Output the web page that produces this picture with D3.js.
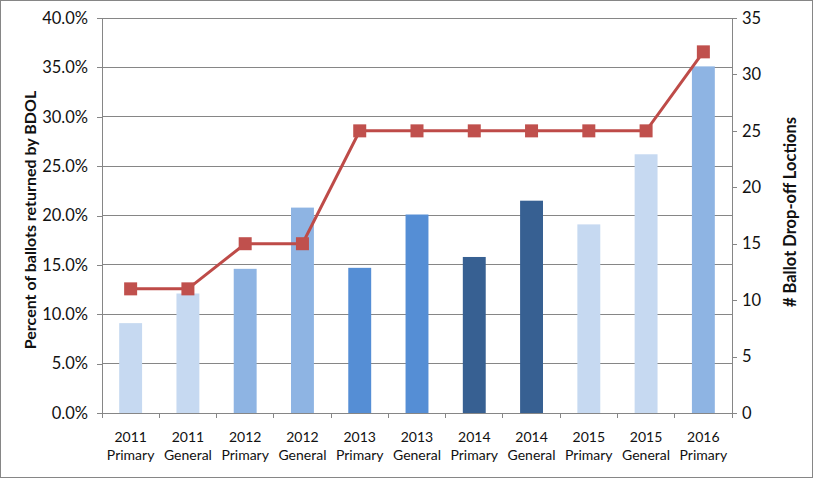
<!DOCTYPE html>
<html><head><meta charset="utf-8">
<script src="https://cdn.jsdelivr.net/npm/d3@7"></script>
<style>body{margin:0;background:#fff}svg{display:block}text{font-family:Lato,Carlito,"Open Sans","Noto Sans",sans-serif}</style>
</head><body>
<svg id="c" width="813" height="478"></svg>
<script>
const years = ["2011","2011","2012","2012","2013","2013","2014","2014","2015","2015","2016"];
const elections = ["Primary","General","Primary","General","Primary","General","Primary","General","Primary","General","Primary"];
const pctReturned = [9.1, 12.1, 14.6, 20.8, 14.7, 20.1, 15.8, 21.5, 19.1, 26.2, 35.1];
const dropoffLocations = [11, 11, 15, 15, 25, 25, 25, 25, 25, 25, 32];
const barColors = ["#C6D9F1","#C6D9F1","#8EB4E3","#8EB4E3","#558ED5","#558ED5","#376092","#376092","#C6D9F1","#C6D9F1","#8EB4E3"];
const leftTicks = [0,5,10,15,20,25,30,35,40];
const rightTicks = [0,5,10,15,20,25,30,35];

const svg = d3.select("#c");
const L = 102, R = 732, T = 18, B = 413;
const idx = d3.range(years.length);
const x = d3.scaleBand().domain(idx).range([L, R]).paddingInner(0.6).paddingOuter(0.3);
const xb = d3.scaleBand().domain(idx).range([L, R]);
const yL = d3.scaleLinear().domain([0, 40]).range([B, T]);
const yR = d3.scaleLinear().domain([0, 35]).range([B, T]);
const grey = "#868686";

svg.append("rect").attr("x",0.5).attr("y",0.5).attr("width",812).attr("height",477).attr("fill","#fff").attr("stroke",grey);

// gridlines
svg.append("g").selectAll("line").data(leftTicks.slice(1)).join("line")
  .attr("x1", L).attr("x2", R).attr("y1", d => yL(d)).attr("y2", d => yL(d))
  .attr("stroke", grey).attr("stroke-width", 1).attr("shape-rendering","crispEdges");

// bars
svg.append("g").selectAll("rect").data(idx).join("rect")
  .attr("x", i => x(i)).attr("width", x.bandwidth())
  .attr("y", i => yL(pctReturned[i])).attr("height", i => B - yL(pctReturned[i]))
  .attr("fill", i => barColors[i]);

// left axis
const gl = svg.append("g").attr("transform", `translate(${L},0)`)
  .call(d3.axisLeft(yL).tickValues(leftTicks).tickFormat(d => d.toFixed(1) + "%").tickSize(5).tickPadding(9));
// right axis
const gr = svg.append("g").attr("transform", `translate(${R},0)`)
  .call(d3.axisRight(yR).tickValues(rightTicks).tickSize(5).tickPadding(5));
// bottom axis
const gb = svg.append("g").attr("transform", `translate(0,${B})`)
  .call(d3.axisBottom(xb).tickValues([]).tickSizeOuter(0));
gb.append("g").selectAll("line").data(d3.range(years.length + 1)).join("line")
  .attr("x1", i => L + i * xb.step()).attr("x2", i => L + i * xb.step())
  .attr("y1", 0).attr("y2", 5).attr("stroke", grey);

[gl, gr, gb].forEach(g => {
  g.selectAll("path,line").attr("stroke", grey).attr("shape-rendering","crispEdges");
  g.selectAll(".tick text").attr("fill", "#111").attr("font-size", 16.5);
});

const cat = svg.append("g").attr("font-size", 14).attr("fill", "#111").attr("text-anchor", "middle");
idx.forEach(i => {
  const cx = xb(i) + xb.bandwidth() / 2;
  cat.append("text").attr("x", cx).attr("y", 442).text(years[i]);
  cat.append("text").attr("x", cx).attr("y", 460).text(elections[i]);
});

// line
const line = d3.line().x(i => xb(i) + xb.bandwidth() / 2).y(i => yR(dropoffLocations[i]));
svg.append("path").datum(idx).attr("d", line).attr("fill", "none").attr("stroke", "#BE4B48").attr("stroke-width", 3);
svg.append("g").selectAll("rect").data(idx).join("rect")
  .attr("x", i => xb(i) + xb.bandwidth() / 2 - 6.5).attr("y", i => yR(dropoffLocations[i]) - 6.5)
  .attr("width", 13).attr("height", 13).attr("fill", "#C0504D");

// axis titles
svg.append("text").attr("transform", "translate(36,220) rotate(-90)").attr("text-anchor", "middle")
  .attr("font-size", 16).attr("font-weight", "bold").attr("fill", "#111").text("Percent of ballots returned by BDOL");
svg.append("text").attr("transform", "translate(796,212) rotate(-90)").attr("text-anchor", "middle")
  .attr("font-size", 16.5).attr("font-weight", "bold").attr("fill", "#111").text("# Ballot Drop-off Loctions");
</script>
</body></html>
